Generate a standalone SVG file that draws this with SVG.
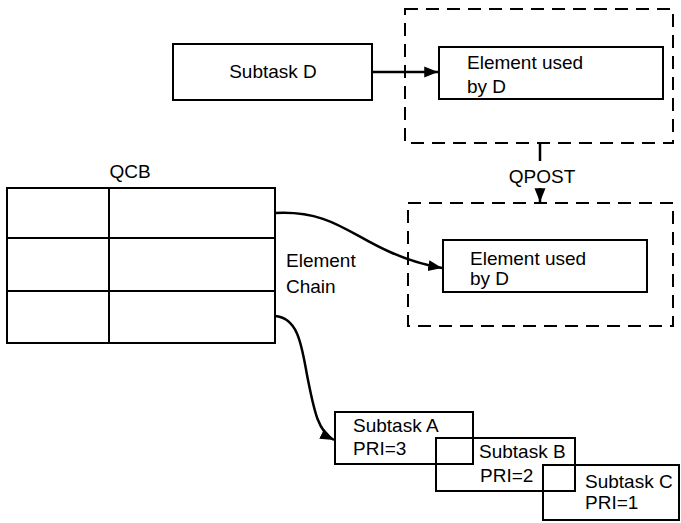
<svg xmlns="http://www.w3.org/2000/svg" width="681" height="523" viewBox="0 0 681 523">
<defs>
<style>
.box{fill:none;stroke:#000;stroke-width:2}
.dash{fill:none;stroke:#000;stroke-width:2;stroke-dasharray:13 8}
.ln{fill:none;stroke:#000;stroke-width:2.5}
text{font-family:"Liberation Sans",Arial,sans-serif;font-size:19px;fill:#000}
</style>
<marker id="ah" viewBox="0 0 10 10" refX="10" refY="5" markerWidth="5.5" markerHeight="5.5" orient="auto" markerUnits="strokeWidth">
<path d="M0,1 L10,5 L0,9 z" fill="#000"/>
</marker>
</defs>
<rect width="681" height="523" fill="#fff"/>
<g id="subtaskD">
<rect class="box" x="173" y="44" width="199" height="56"/>
<text x="273" y="78" text-anchor="middle">Subtask D</text>
</g>
<g id="container1">
<rect class="dash" x="405" y="9" width="268" height="134"/>
</g>
<g id="element1">
<rect class="box" x="439" y="47" width="224" height="52"/>
<text x="467" y="69">Element used</text>
<text x="467" y="93">by D</text>
</g>
<g id="container2">
<rect class="dash" x="408" y="203" width="265" height="123"/>
</g>
<g id="element2">
<rect class="box" x="443" y="240" width="204" height="52"/>
<text x="470" y="265">Element used</text>
<text x="470" y="285">by D</text>
</g>
<g id="qcb">
<text x="130" y="178" text-anchor="middle">QCB</text>
<rect class="box" x="7" y="188" width="268" height="155"/>
<line class="box" x1="7" y1="238" x2="275" y2="238"/>
<line class="box" x1="7" y1="291" x2="275" y2="291"/>
<line class="box" x1="109" y1="188" x2="109" y2="343"/>
</g>
<g id="chainLabel">
<text x="286" y="267">Element</text>
<text x="286" y="293">Chain</text>
</g>
<g id="subtaskA">
<rect class="box" x="335" y="412" width="138" height="52"/>
<text x="353" y="432">Subtask A</text>
<text x="353" y="455">PRI=3</text>
</g>
<g id="subtaskB">
<rect class="box" x="436" y="438" width="139" height="53"/>
<text x="479" y="458">Subtask B</text>
<text x="480" y="482">PRI=2</text>
</g>
<g id="subtaskC">
<rect class="box" x="543" y="465" width="136" height="55"/>
<text x="585" y="488">Subtask C</text>
<text x="585" y="509">PRI=1</text>
</g>
<g id="qpostLabel">
<text x="542" y="183" text-anchor="middle">QPOST</text>
</g>
<g id="connectors">
<line class="ln" x1="372" y1="72" x2="438" y2="72" marker-end="url(#ah)"/>
<line class="ln" x1="540" y1="143" x2="540" y2="161"/>
<line class="ln" x1="540" y1="188" x2="540" y2="202" marker-end="url(#ah)"/>
<path class="ln" d="M275,213 C330,210 350,235 390,252 C410,261 425,265 442,268" marker-end="url(#ah)"/>
<path class="ln" d="M275,316 C300,318 302,350 308,380 C314,410 318,432 334,440" marker-end="url(#ah)"/>
</g>
</svg>
